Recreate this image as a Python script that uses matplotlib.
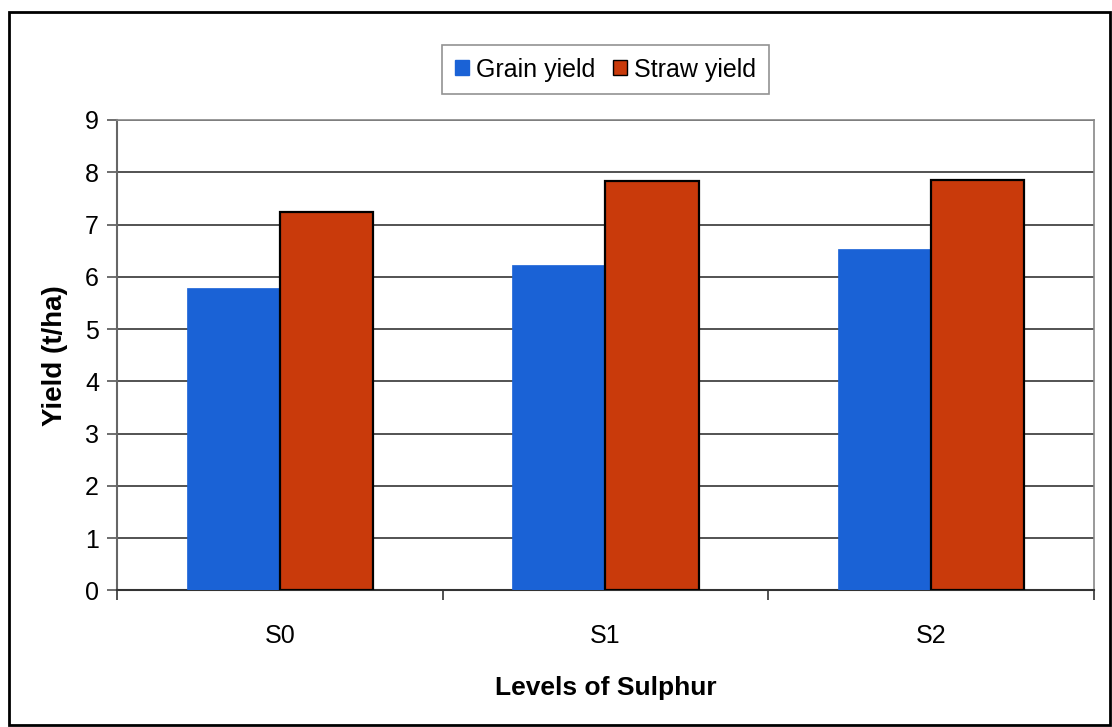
import numpy as np
import matplotlib.pyplot as plt
from matplotlib.patches import Rectangle, Patch

plt.rcParams['font.family'] = ['Liberation Sans', 'DejaVu Sans']

# ---- data ----
levels = ['S0', 'S1', 'S2']
grain_yield = [5.78, 6.22, 6.53]
straw_yield = [7.24, 7.84, 7.86]
y_ticks = list(range(0, 10))

blue = '#1a62d6'
red = '#c93a0b'

fig = plt.figure(figsize=(11.12, 7.27), dpi=100, facecolor='white')
ax = fig.add_axes([0.1052, 0.1878, 0.8786, 0.6472])

x = np.arange(len(levels))
w = 0.2857
ax.bar(x - w / 2, grain_yield, width=w, color=blue, edgecolor=blue, linewidth=0.5, zorder=3)
ax.bar(x + w / 2, straw_yield, width=w, color=red, edgecolor='black', linewidth=1.6, zorder=3)

ax.set_xlim(-0.5, len(levels) - 0.5)
ax.set_ylim(0, 9)
ax.set_yticks(y_ticks)
ax.set_xticks(x)
ax.set_xticklabels(levels)
# category boundary ticks like excel
ax.set_xticks(np.arange(-0.5, len(levels)), minor=True)
ax.tick_params(axis='x', which='major', length=0, labelsize=18, pad=24)
ax.tick_params(axis='x', which='minor', length=7, width=1.2, color='#333333')
ax.tick_params(axis='y', length=7, width=1.2, color='#555555', labelsize=18, pad=6)

ax.grid(axis='y', color='#444444', linewidth=1.3, zorder=0)
for s in ['top', 'right']:
    ax.spines[s].set_color('#888888')
    ax.spines[s].set_linewidth(1.2)
ax.spines['left'].set_color('#666666')
ax.spines['left'].set_linewidth(1.5)
ax.spines['bottom'].set_color('#333333')
ax.spines['bottom'].set_linewidth(1.5)

ax.set_ylabel('Yield (t/ha)', fontsize=20, fontweight='bold', labelpad=12)
ax.set_xlabel('Levels of Sulphur', fontsize=19, fontweight='bold', labelpad=20)

handles = [Patch(facecolor=blue, edgecolor=blue), Patch(facecolor=red, edgecolor='black')]
leg = fig.legend(handles, ['Grain yield', 'Straw yield'], loc='center',
                 bbox_to_anchor=(0.5445, 0.904), ncol=2, fontsize=18,
                 frameon=True, fancybox=False, handlelength=0.55, handleheight=0.55,
                 handletextpad=0.3, columnspacing=0.7, borderpad=0.5, borderaxespad=0)
leg.get_frame().set_edgecolor('#777777')
leg.get_frame().set_linewidth(1.2)

# outer chart border
fig.patches.append(Rectangle((0.0081, 0.0028), 0.990, 0.981, transform=fig.transFigure,
                             fill=False, edgecolor='black', linewidth=2.0))

fig.savefig('out.png', dpi=100)
